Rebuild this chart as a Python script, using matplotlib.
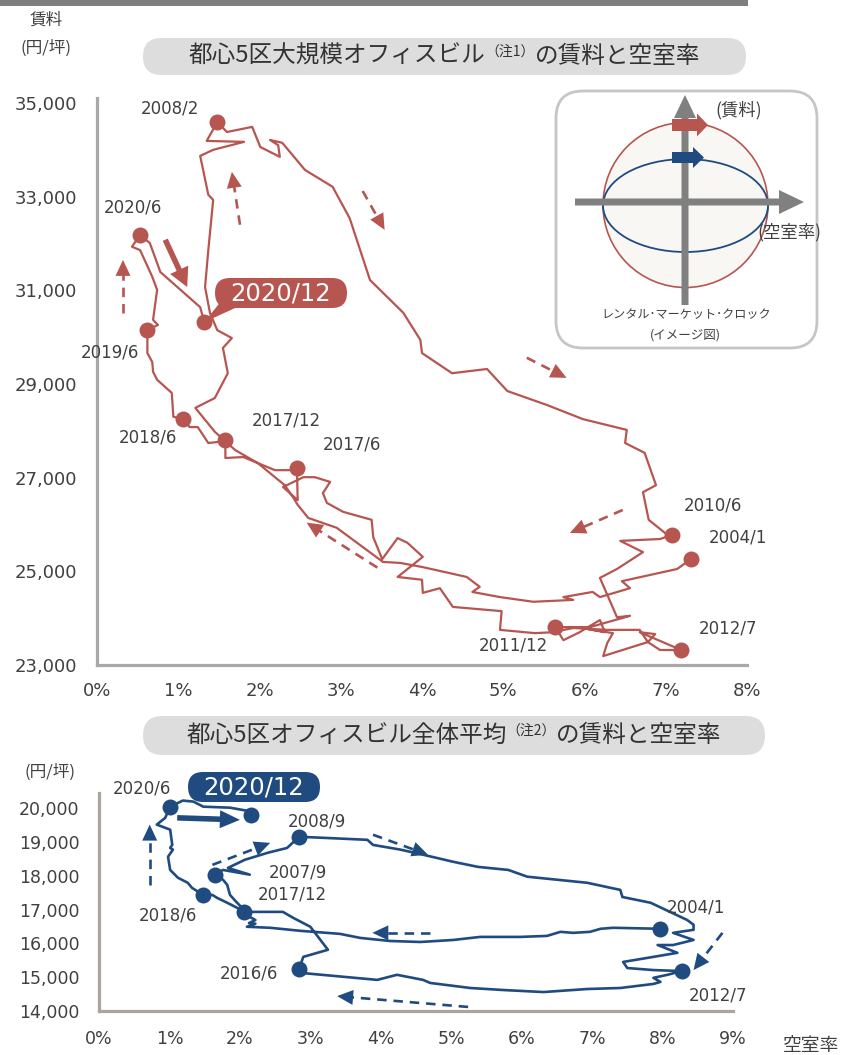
import numpy as np
import matplotlib
matplotlib.use("Agg")
import matplotlib.pyplot as plt
from matplotlib.patches import FancyBboxPatch, Circle, Ellipse, FancyArrow, Polygon, Rectangle
from matplotlib.ticker import FixedLocator, FuncFormatter

W, H = 842, 1055
RED = "#b75551"
BLUE = "#1f4b80"
TXT = "#404040"
JP = ["Noto Sans CJK JP", "DejaVu Sans"]
NUM = "DejaVu Sans"
plt.rcParams["font.family"] = JP

# ---- Large-scale office buildings, central 5 wards: monthly path ----
large_vacancy = [
    7.31, 7.14, 6.46, 6.56, 6.19, 6.10, 5.74, 5.86, 5.37, 4.96, 4.62, 4.71, 4.55, 4.01,
    3.73, 3.52, 2.95, 2.60, 2.47, 2.41, 2.31, 1.98, 1.70, 1.45, 1.21, 1.45, 1.61, 1.55,
    1.66, 1.48, 1.39, 1.33, 1.37, 1.43, 1.37, 1.27, 1.43, 1.81, 1.35, 1.48,
    1.60, 1.91, 2.01, 2.25, 2.23, 2.13, 2.28, 2.56, 2.90, 3.11, 3.36, 3.77, 3.98, 4.00,
    4.37, 4.80, 5.05, 5.54, 5.98, 6.52, 6.50, 6.74, 6.88, 6.72, 6.79, 6.99, 7.08,
    6.93, 6.44, 6.72, 6.40, 6.19, 6.28, 6.40, 6.56, 6.07, 5.64,
    5.74, 5.94, 6.19, 6.25, 5.97, 6.35, 6.28, 6.23, 6.78, 6.87, 6.68, 7.19,
    6.93, 6.78, 6.68, 6.28, 5.86, 5.61, 5.39, 4.96, 4.98, 4.38, 4.22, 4.01, 4.00, 3.70,
    4.01, 3.82, 3.70, 3.51, 3.40, 3.38, 3.03, 2.83, 2.78, 2.87, 2.68, 2.54, 2.29, 2.47,
    2.46, 2.38, 2.19, 1.80, 1.58, 1.58, 1.48, 1.37, 1.24, 1.14, 1.06, 0.94, 0.92, 0.74,
    0.69, 0.68, 0.62, 0.62, 0.75, 0.69, 0.74, 0.68, 0.53, 0.43, 0.53, 0.65, 0.78, 1.27,
    1.32,
]
large_rent = [
    25260, 25050, 24790, 24640, 24450, 24560, 24450, 24390, 24350, 24450, 24560, 24670, 24880, 25090,
    25180, 25200, 25930, 26140, 26420, 26590, 26840, 27310, 27590, 27980, 28490, 28700, 29230, 29770,
    29980, 30150, 30520, 31070, 31860, 32930, 33040, 33870, 34000, 34170, 34190, 34590,
    34380, 34490, 34060, 33850, 34100, 34210, 34150, 33570, 33210, 32540, 31220, 30520, 29940, 29660,
    29230, 29320, 28850, 28550, 28250, 28020, 27740, 27530, 26840, 26690, 26100, 25820, 25780,
    25690, 25650, 25410, 25050, 24860, 24500, 24020, 24050, 23810, 23810,
    23530, 23700, 23960, 23700, 23790, 23680, 23470, 23190, 23490, 23660, 23700, 23320,
    23320, 23490, 23750, 23750, 23790, 23700, 23680, 23750, 24150, 24240, 24640, 24540, 24820, 24880,
    25310, 25610, 25710, 25260, 25730, 26100, 26270, 26460, 26670, 26910, 27010, 27010, 26800, 26520,
    27210, 27160, 27160, 27440, 27420, 27800, 27760, 27740, 28080, 28080, 28250, 28300, 28810, 29090,
    29260, 29470, 29660, 30150, 30260, 30370, 31010, 31290, 31860, 31930, 32180, 32010, 31390, 30640,
    30320,
]
large_points = ["2004/1", "2008/2", "2010/6", "2011/12", "2012/7", "2017/6",
                "2017/12", "2018/6", "2019/6", "2020/6", "2020/12"]
large_points_vacancy = [7.31, 1.48, 7.08, 5.64, 7.19, 2.46, 1.58, 1.06, 0.62, 0.53, 1.32]
large_points_rent = [25260, 34590, 25780, 23810, 23320, 27210, 27800, 28250, 30150, 32180, 30320]

# ---- All office buildings, central 5 wards: monthly path ----
all_vacancy = [
    7.97, 7.30, 7.12, 6.97, 6.73, 6.55, 6.36, 5.98, 5.41, 5.03, 4.56, 4.13, 3.71, 3.42,
    2.86, 2.43, 2.10, 2.22, 2.13, 2.22, 2.14, 2.06, 1.96, 1.86, 1.82, 1.76, 1.65,
    1.76, 2.14, 1.83, 2.07, 2.40, 2.67, 2.84,
    3.18, 3.81, 3.89, 4.28, 4.60, 5.03, 5.38, 5.81, 6.08, 6.93, 7.40, 7.43, 7.83, 8.35,
    8.44, 8.44, 8.15, 8.44, 8.15, 7.93, 8.21, 7.87, 7.44, 7.50, 7.87, 8.27,
    8.07, 7.87, 7.97, 7.87, 7.40, 6.93, 6.31, 5.74, 5.27, 4.70, 4.60, 4.23, 3.95, 2.90, 2.84,
    2.90, 3.25, 3.00, 2.76, 2.61, 2.22, 2.06,
    1.96, 1.82, 1.68, 1.61, 1.48,
    1.32, 1.26, 1.12, 1.01, 0.98, 1.05, 1.01, 1.04, 1.01, 0.82, 0.94, 1.01,
    1.19, 1.34, 1.48, 1.86, 2.10, 2.16,
]
all_rent = [
    16430, 16460, 16430, 16340, 16310, 16340, 16220, 16190, 16190, 16100, 16040, 16070, 16160, 16280,
    16370, 16460, 16490, 16580, 16600, 16690, 16780, 16990, 17200, 17430, 17730, 17880, 18030,
    18170, 18030, 18230, 18470, 18680, 18820, 19150,
    19120, 19060, 18910, 18770, 18620, 18410, 18260, 18170, 17970, 17790, 17580, 17370, 17200, 16690,
    16550, 16400, 16310, 16100, 15950, 15950, 15720, 15600, 15450, 15270, 15210, 15180,
    15070, 14980, 14860, 14800, 14680, 14650, 14560, 14620, 14680, 14830, 14920, 15070, 14920, 15120, 15240,
    15600, 15810, 16490, 16750, 16930, 16930, 16930,
    17050, 17200, 17340, 17430, 17430,
    17640, 17790, 17940, 18170, 18560, 18770, 18820, 18910, 19360, 19510, 19710, 20040,
    20220, 20190, 20040, 20010, 19920, 19800,
]
all_points = ["2004/1", "2007/9", "2008/9", "2012/7", "2016/6", "2017/12",
              "2018/6", "2020/6", "2020/12"]
all_points_vacancy = [7.97, 1.65, 2.84, 8.27, 2.84, 2.06, 1.48, 1.01, 2.16]
all_points_rent = [16430, 18030, 19150, 15180, 15240, 16930, 17430, 20040, 19800]

large_rent_ticks = [23000, 25000, 27000, 29000, 31000, 33000, 35000]
large_vac_ticks = [0, 1, 2, 3, 4, 5, 6, 7, 8]
all_rent_ticks = [14000, 15000, 16000, 17000, 18000, 19000, 20000]
all_vac_ticks = [0, 1, 2, 3, 4, 5, 6, 7, 8, 9]

# ------------------------------------------------------------------
fig = plt.figure(figsize=(W / 100, H / 100), dpi=100)
fig.patch.set_facecolor("white")


def px_axes(l, t, r, b):
    return fig.add_axes([l / W, 1 - b / H, (r - l) / W, (b - t) / H])


def style_axes(ax, xt, yt, spine_color, fs, ypad, xpad):
    ax.set_facecolor("none")
    for s in ("top", "right"):
        ax.spines[s].set_visible(False)
    for s in ("left", "bottom"):
        ax.spines[s].set_color(spine_color)
        ax.spines[s].set_linewidth(2.3)
    ax.xaxis.set_major_locator(FixedLocator(xt))
    ax.yaxis.set_major_locator(FixedLocator(yt))
    ax.xaxis.set_major_formatter(FuncFormatter(lambda v, p: f"{v:.0f}%"))
    ax.yaxis.set_major_formatter(FuncFormatter(lambda v, p: f"{v:,.0f}"))
    ax.tick_params(length=0, colors=TXT, labelsize=fs, labelfontfamily=NUM)
    ax.tick_params(axis="y", pad=ypad)
    ax.tick_params(axis="x", pad=xpad)


ax1 = px_axes(97, 98.3, 747, 665)
ax1.set_xlim(0, 8)
ax1.set_ylim(23000, 35100)
style_axes(ax1, large_vac_ticks, large_rent_ticks, "#a8a8a8", 13, 14, 12)

ax2 = px_axes(99, 792.8, 733, 1011)
ax2.set_xlim(0, 9)
ax2.set_ylim(14000, 20450)
style_axes(ax2, all_vac_ticks, all_rent_ticks, "#aba49f", 12.5, 14, 14)


def head_points(ax, start, end, length, half_width):
    p0 = ax.transData.transform(start)
    p1 = ax.transData.transform(end)
    d = p1 - p0
    u = d / np.hypot(*d)
    n = np.array([-u[1], u[0]])
    base = p1 - u * length
    inv = ax.transData.inverted()
    tri = [inv.transform(p1), inv.transform(base + n * half_width), inv.transform(base - n * half_width)]
    return inv.transform(base + u * 2), tri


def dashed_arrow(ax, start, end, color):
    base, tri = head_points(ax, start, end, 16, 7.5)
    ax.plot([start[0], base[0]], [start[1], base[1]], color=color, lw=1.9,
            ls=(0, (3.6, 2.6)), dash_capstyle="butt", zorder=3)
    ax.add_patch(Polygon(tri, closed=True, fc=color, ec="none", zorder=3))


def solid_arrow(ax, start, end, color, lw, length, half_width):
    base, tri = head_points(ax, start, end, length, half_width)
    ax.plot([start[0], base[0]], [start[1], base[1]], color=color, lw=lw,
            solid_capstyle="butt", zorder=3)
    ax.add_patch(Polygon(tri, closed=True, fc=color, ec="none", zorder=3))


# ---- top: large-scale buildings ----
ax1.plot(large_vacancy, large_rent, color=RED, lw=1.6, zorder=2)
ax1.plot(large_points_vacancy, large_points_rent, "o", ms=11.5, color=RED, mec="none", zorder=4)

large_label_offsets = {
    "2004/1": (47, 22), "2008/2": (-47, 14), "2010/6": (41, 29), "2011/12": (-42, -18),
    "2012/7": (47, 22), "2017/6": (55, 23), "2017/12": (61, 20), "2018/6": (-35, -18),
    "2019/6": (-37, -22), "2020/6": (-7, 28),
}
for lbl, v, r in zip(large_points, large_points_vacancy, large_points_rent):
    if lbl in large_label_offsets:
        ax1.annotate(lbl, (v, r), xytext=large_label_offsets[lbl], textcoords="offset pixels",
                     ha="center", va="center", fontsize=12, color=TXT, family=NUM)

solid_arrow(ax1, (0.84, 32080), (1.11, 31070), RED, 4.0, 19, 10)
dashed_arrow(ax1, (0.32, 30520), (0.32, 31650), RED)
dashed_arrow(ax1, (1.76, 32400), (1.66, 33530), RED)
dashed_arrow(ax1, (3.27, 33120), (3.54, 32290), RED)
dashed_arrow(ax1, (5.29, 29560), (5.78, 29130), RED)
dashed_arrow(ax1, (6.47, 26310), (5.82, 25820), RED)
dashed_arrow(ax1, (3.45, 25080), (2.58, 26040), RED)

# ---- bottom: all buildings ----
ax2.plot(all_vacancy, all_rent, color=BLUE, lw=1.9, zorder=2)
ax2.plot(all_points_vacancy, all_points_rent, "o", ms=11.5, color=BLUE, mec="none", zorder=4)

all_label_offsets = {
    "2004/1": (35, 21), "2007/9": (83, 2), "2008/9": (18, 15), "2012/7": (36, -24),
    "2016/6": (-50, -4), "2017/12": (48, 17), "2018/6": (-35, -21), "2020/6": (-28, 18),
}
for lbl, v, r in zip(all_points, all_points_vacancy, all_points_rent):
    if lbl in all_label_offsets:
        ax2.annotate(lbl, (v, r), xytext=all_label_offsets[lbl], textcoords="offset pixels",
                     ha="center", va="center", fontsize=12, color=TXT, family=NUM)

solid_arrow(ax2, (1.11, 19710), (2.00, 19650), BLUE, 4.0, 20, 9)
dashed_arrow(ax2, (0.72, 17730), (0.72, 19510), BLUE)
dashed_arrow(ax2, (3.89, 19210), (4.67, 18620), BLUE)
dashed_arrow(ax2, (1.61, 18320), (2.43, 18970), BLUE)
dashed_arrow(ax2, (4.70, 16310), (3.88, 16310), BLUE)
dashed_arrow(ax2, (5.24, 14120), (3.38, 14440), BLUE)
dashed_arrow(ax2, (8.85, 16310), (8.44, 15210), BLUE)

# ---- overlay in pixel units: titles, callouts, clock diagram ----
ov = fig.add_axes([0, 0, 1, 1])
ov.set_xlim(0, W)
ov.set_ylim(H, 0)
ov.axis("off")

ov.add_patch(Rectangle((0, 0), 748, 5.5, fc="#7f7f7f", ec="none"))
ov.text(46, 20, "賃料", fontsize=12, color=TXT, ha="center", va="center")
ov.text(46, 48, "(円/坪)", fontsize=12, color=TXT, ha="center", va="center")
ov.text(50, 772, "(円/坪)", fontsize=12, color=TXT, ha="center", va="center")
ov.text(811, 1046, "空室率", fontsize=13.5, color=TXT, ha="center", va="center")

renderer = fig.canvas.get_renderer()


def title_pill(x0, y0, x1, height, parts):
    ov.add_patch(FancyBboxPatch((x0, y0), x1 - x0, height,
                                boxstyle=f"round,pad=0,rounding_size={height / 2}",
                                fc="#dddddd", ec="none"))
    cy = y0 + height / 2
    texts, widths = [], []
    for s, fs, dy in parts:
        t = ov.text(0, cy + dy, s, fontsize=fs, color="#333333", ha="left", va="center")
        widths.append(t.get_window_extent(renderer).width)
        texts.append(t)
    x = (x0 + x1) / 2 - sum(widths) / 2
    for t, w in zip(texts, widths):
        t.set_x(x)
        x += w


title_pill(143, 38, 746, 37, [("都心5区大規模オフィスビル", 17, 0), ("（注1）", 10, -5),
                             ("の賃料と空室率", 17, 0)])
title_pill(143, 716, 765, 39, [("都心5区オフィスビル全体平均", 17, 0), ("（注2）", 10, -5),
                              ("の賃料と空室率", 17, 0)])


def to_overlay(ax, v, r):
    x, y = ax.transData.transform((v, r))
    return x, H - y


# callout for the latest month, large buildings
dx, dy = to_overlay(ax1, large_points_vacancy[-1], large_points_rent[-1])
ov.add_patch(Polygon([(222, 300), (246, 303), (dx, dy)], closed=True, fc=RED, ec="none"))
ov.add_patch(FancyBboxPatch((215, 278), 132, 30, boxstyle="round,pad=0,rounding_size=15",
                            fc=RED, ec="none"))
ov.text(281, 293.5, "2020/12", fontsize=17.5, color="white", ha="center", va="center", family=NUM)

# callout for the latest month, all buildings
ov.add_patch(FancyBboxPatch((188, 772), 132, 30, boxstyle="round,pad=0,rounding_size=15",
                            fc=BLUE, ec="none"))
ov.text(254, 787.5, "2020/12", fontsize=17.5, color="white", ha="center", va="center", family=NUM)

# rental market clock diagram
GRAY = "#808080"
ov.add_patch(FancyBboxPatch((556, 91), 261, 257, boxstyle="round,pad=0,rounding_size=27",
                            fc="white", ec="#c6c6c6", lw=2))
ov.add_patch(Circle((685.5, 205), 82.5, fc="#f8f7f3", ec=RED, lw=1.2))
ov.add_patch(Ellipse((685.5, 205.5), 165, 93, fc="none", ec=BLUE, lw=1.3))
ov.add_patch(FancyArrow(575, 202, 229, 0, width=7, head_width=24, head_length=25,
                        length_includes_head=True, fc=GRAY, ec="none"))
ov.add_patch(FancyArrow(685, 305, 0, -210, width=7, head_width=22, head_length=23,
                        length_includes_head=True, fc=GRAY, ec="none"))
ov.add_patch(FancyArrow(672, 125, 36, 0, width=12, head_width=23, head_length=11,
                        length_includes_head=True, fc=RED, ec="none"))
ov.add_patch(FancyArrow(672, 157.5, 32, 0, width=11, head_width=21, head_length=11,
                        length_includes_head=True, fc=BLUE, ec="none"))
ov.text(739, 110, "(賃料)", fontsize=12.5, color=TXT, ha="center", va="center")
ov.text(789, 232, "(空室率)", fontsize=12.5, color=TXT, ha="center", va="center")
ov.text(686, 315, "レンタル･マーケット･クロック", fontsize=8.7, color=TXT, ha="center", va="center")
ov.text(685, 335, "(イメージ図)", fontsize=9, color=TXT, ha="center", va="center")

fig.savefig("out.png", dpi=100, facecolor="white")
